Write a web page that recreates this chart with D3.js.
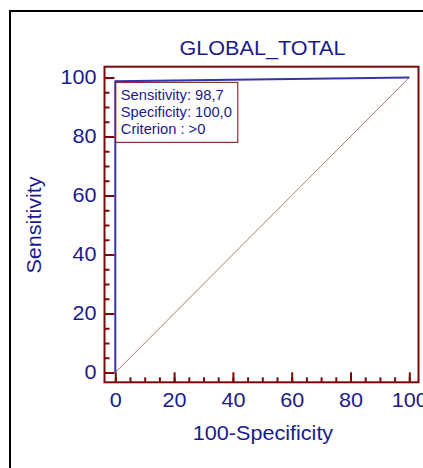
<!DOCTYPE html>
<html>
<head>
<meta charset="utf-8">
<script src="https://cdn.jsdelivr.net/npm/d3@7"></script>
<style>
  html, body { margin: 0; padding: 0; background: #fff; overflow: hidden; }
  svg { display: block; }
  text { font-family: "Liberation Sans", Arial, Helvetica, sans-serif; }
</style>
</head>
<body>
<svg id="chart" width="423" height="468"></svg>
<script>
// ROC curve points (100-Specificity, Sensitivity)
const rocFpr = [0, 0, 100];
const rocTpr = [0, 98.7, 100];
// Reference (chance) diagonal
const diagFpr = [0, 100];
const diagTpr = [0, 100];
// Axis ticks
const majorTicks = [0, 20, 40, 60, 80, 100];
const minorTicks = d3.range(0, 101, 5);
// Summary box lines
const infoLines = ["Sensitivity: 98,7", "Specificity: 100,0", "Criterion : >0"];
const titleText = "GLOBAL_TOTAL";
const xTitle = "100-Specificity";
const yTitle = "Sensitivity";

const navy = "#1a1a8c";
const maroon = "#7a0a0a";
const curveBlue = "#3535a8";
const wide = 1.08; // horizontal stretch for the wide sans lettering

const svg = d3.select("#chart");

// Outer black frame (open to the right and bottom)
svg.append("path")
  .attr("d", "M10,468 L10,11 L423,11")
  .attr("fill", "none").attr("stroke", "#000").attr("stroke-width", 2);

const x = d3.scaleLinear().domain([0, 100]).range([115.3, 409.3]);
const y = d3.scaleLinear().domain([0, 100]).range([372.5, 77.5]);

const frame = { x0: 104.5, x1: 418.5, y0: 66.7, y1: 382.3 };

// Place a text at (px, py) with a horizontal stretch
function stretchedText(sel, px, py, sx, rot) {
  return sel.attr("transform", `translate(${px},${py})` + (rot ? ` rotate(${rot})` : "") + ` scale(${sx},1)`);
}

// Title
stretchedText(svg.append("text"), 262.5, 54.5, wide)
  .attr("text-anchor", "middle")
  .attr("font-size", 20).attr("fill", navy)
  .text(titleText);

// Diagonal
const line = d3.line().x(d => x(d[0])).y(d => y(d[1]));
svg.append("path")
  .datum(d3.zip(diagFpr, diagTpr))
  .attr("d", line)
  .attr("fill", "none").attr("stroke", "#a04444").attr("stroke-width", 0.75);

// ROC curve
svg.append("path")
  .datum(d3.zip(rocFpr, rocTpr))
  .attr("d", line)
  .attr("fill", "none").attr("stroke", curveBlue).attr("stroke-width", 2);

// Plot frame
svg.append("rect")
  .attr("x", frame.x0).attr("y", frame.y0)
  .attr("width", frame.x1 - frame.x0).attr("height", frame.y1 - frame.y0)
  .attr("fill", "none").attr("stroke", maroon).attr("stroke-width", 2);

// Y axis: minor ticks, then major ticks with labels
const yMinor = svg.append("g").attr("transform", `translate(${frame.x0},0)`)
  .call(d3.axisLeft(y).tickValues(minorTicks).tickSize(-5).tickFormat(""));
const yMajor = svg.append("g").attr("transform", `translate(${frame.x0},0)`)
  .call(d3.axisLeft(y).tickValues(majorTicks).tickSize(-10).tickPadding(8).tickFormat(d3.format("d")));

// X axis
const xMinor = svg.append("g").attr("transform", `translate(0,${frame.y1})`)
  .call(d3.axisBottom(x).tickValues(minorTicks).tickSize(-5).tickFormat(""));
const xMajor = svg.append("g").attr("transform", `translate(0,${frame.y1})`)
  .call(d3.axisBottom(x).tickValues(majorTicks).tickSize(-10).tickPadding(11).tickFormat(d3.format("d")));

[yMinor, yMajor, xMinor, xMajor].forEach(g => {
  g.select(".domain").remove();
  g.selectAll(".tick line").attr("stroke", maroon).attr("stroke-width", 2);
  g.selectAll(".tick text")
    .attr("fill", navy)
    .attr("font-size", 20)
    .attr("font-family", "'Liberation Sans', Arial, Helvetica, sans-serif");
});
// stretch tick labels around their anchor
yMajor.selectAll(".tick text").each(function () {
  const t = d3.select(this);
  const tx = +t.attr("x");
  t.attr("x", 0).attr("transform", `translate(${tx},0) scale(${wide},1)`);
});
xMajor.selectAll(".tick text").attr("transform", `scale(${wide},1)`);

// Axis titles
stretchedText(svg.append("text"), 263, 439.5, wide)
  .attr("text-anchor", "middle")
  .attr("font-size", 20).attr("fill", navy)
  .text(xTitle);

stretchedText(svg.append("text"), 40.5, 225, wide, -90)
  .attr("text-anchor", "middle")
  .attr("font-size", 20).attr("fill", navy)
  .text(yTitle);

// Summary box anchored at the operating point
const bx = x(rocFpr[1]) + 0.5, by = y(rocTpr[1]) + 1;
svg.append("rect")
  .attr("x", bx).attr("y", by)
  .attr("width", 122).attr("height", 60)
  .attr("fill", "#fff").attr("stroke", maroon).attr("stroke-width", 1);

svg.append("g").selectAll("text")
  .data(infoLines)
  .join("text")
  .attr("transform", (d, i) => `translate(${bx + 5},${by + 18 + i * 17}) scale(1.05,1)`)
  .attr("font-size", 14).attr("fill", navy)
  .text(d => d);
</script>
</body>
</html>
